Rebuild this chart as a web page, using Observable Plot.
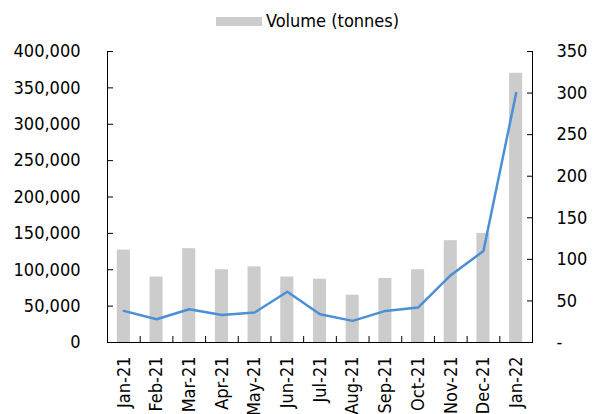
<!DOCTYPE html>
<html><head><meta charset="utf-8">
<script src="https://cdn.jsdelivr.net/npm/d3@7"></script>
<script src="https://cdn.jsdelivr.net/npm/@observablehq/plot@0.6"></script>
<style>
body{margin:0;background:#fff;}
#wrap{position:relative;width:593px;height:414px;overflow:hidden;font-family:"DejaVu Sans Condensed","DejaVu Sans",sans-serif;font-stretch:condensed;}
#legend{position:absolute;left:216px;top:9px;display:flex;align-items:center;font-size:18px;color:#000;line-height:24px;}
#legend .sw{display:inline-block;width:46px;height:9px;background:#cccccc;margin-right:4px;}
#chart{position:absolute;left:0;top:0;}
</style></head><body>
<div id="wrap"><div id="chart"></div><div id="legend"><span class="sw"></span><span>Volume (tonnes)</span></div></div>
<script>
const months = ["Jan-21","Feb-21","Mar-21","Apr-21","May-21","Jun-21","Jul-21","Aug-21","Sep-21","Oct-21","Nov-21","Dec-21","Jan-22"];
const volume = [127000, 90000, 129000, 100000, 104000, 90000, 87000, 65000, 88000, 100000, 140000, 150000, 370000];
const price = [38, 28, 40, 33, 36, 61, 34, 26, 38, 42, 81, 110, 300];
const leftTicks = [0, 50000, 100000, 150000, 200000, 250000, 300000, 350000, 400000];
const rightTicks = [0, 50, 100, 150, 200, 250, 300, 350];
const yMax = 400000, y2Max = 350, k = yMax / y2Max;
const data = months.map((m, i) => ({i, month: m, volume: volume[i], price: price[i]}));
const font = '"DejaVu Sans Condensed","DejaVu Sans",sans-serif';
const chart = Plot.plot({
  width: 593, height: 414,
  marginLeft: 107, marginRight: 61, marginTop: 51, marginBottom: 72,
  style: {fontFamily: font, fontSize: "18px", color: "#000", background: "transparent", fontStretch: "condensed"},
  x: {type: "linear", domain: [0, months.length], axis: null},
  y: {domain: [0, yMax], axis: null},
  marks: [
    Plot.rectY(data, {x1: d => d.i + 0.3, x2: d => d.i + 0.7, y: "volume", fill: "#cccccc"}),
    Plot.line(data, {x: d => d.i + 0.5, y: d => d.price * k, stroke: "#4b8fd6", strokeWidth: 2.5}),
    Plot.ruleX([0, months.length], {stroke: "#000", strokeWidth: 1}),
    Plot.ruleY([0], {stroke: "#000", strokeWidth: 1}),
    Plot.axisY(leftTicks, {anchor: "left", label: null, tickSize: 0, tickPadding: 27, tickFormat: d3.format(","), fill: "#000"}),
    Plot.axisY(leftTicks, {anchor: "left", label: null, tickSize: 6, dx: 6, tickFormat: () => "", stroke: "#000"}),
    Plot.axisY(rightTicks.map(v => v * k), {anchor: "right", label: null, tickSize: 0, tickPadding: 24, fill: "#000",
      tickFormat: d => { const v = Math.round(d / k); return v === 0 ? "-" : String(v); }}),
    Plot.axisY(rightTicks.map(v => v * k), {anchor: "right", label: null, tickSize: 6, dx: -6, tickFormat: () => "", stroke: "#000"}),
    Plot.axisX(months.map((m, i) => i + 0.5), {anchor: "bottom", label: null, tickSize: 0, tickPadding: 14, tickRotate: -90, fill: "#000",
      tickFormat: d => months[Math.floor(d)]}),
    Plot.axisX(d3.range(1, months.length), {anchor: "bottom", label: null, tickSize: 6, dy: -6, tickFormat: () => "", stroke: "#000"})
  ]
});
document.getElementById("chart").appendChild(chart);
</script>
</body></html>
